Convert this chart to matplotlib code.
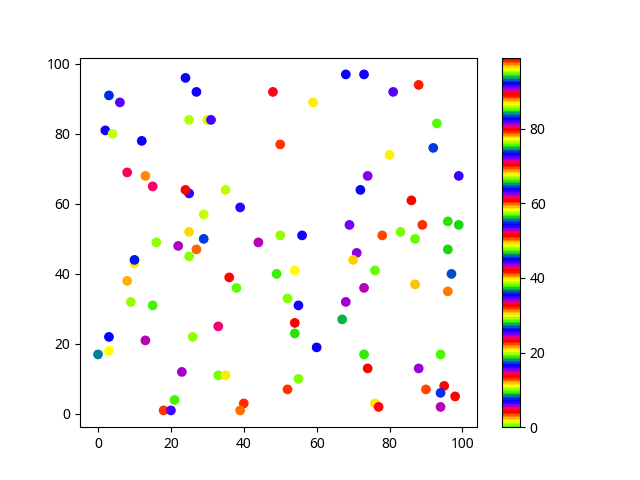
import matplotlib
matplotlib.use('Agg')
import matplotlib.pyplot as plt

plt.rcParams['font.family'] = ['Noto Sans', 'DejaVu Sans']

# point positions
x = [24, 27, 3, 6, 48, 25, 30, 31, 2, 4,
     12, 50, 8, 13, 15, 25, 24, 35, 39, 29,
     25, 29, 16, 44, 50, 68, 73, 88, 81, 59,
     93, 92, 80, 74, 99, 72, 86, 69, 89, 96,
     99, 56, 78, 83, 87, 22, 27, 25, 10, 10,
     8, 36, 38, 49, 9, 15, 33, 3, 13, 26,
     0, 3, 23, 33, 35, 21, 18, 20, 40, 39,
     96, 71, 70, 54, 76, 97, 87, 96, 73, 68,
     52, 55, 67, 54, 54, 60, 73, 94, 74, 88,
     55, 52, 90, 95, 94, 98, 76, 77, 94]
y = [96, 92, 91, 89, 92, 84, 84, 84, 81, 80,
     78, 77, 69, 68, 65, 63, 64, 64, 59, 57,
     52, 50, 49, 49, 51, 97, 97, 94, 92, 89,
     83, 76, 74, 68, 68, 64, 61, 54, 54, 55,
     54, 51, 51, 52, 50, 48, 47, 45, 43, 44,
     38, 39, 36, 40, 32, 31, 25, 22, 21, 22,
     17, 18, 12, 11, 11, 4, 1, 1, 3, 1,
     47, 46, 44, 41, 41, 40, 37, 35, 36, 32,
     33, 31, 27, 26, 23, 19, 17, 17, 13, 13,
     10, 7, 7, 8, 6, 5, 3, 2, 2]
# colour values (estimated from the prism colours)
c = [7.1, 16.6, 26.5, 34.6, 42.4, 48.3, 57.8, 72.5, 82.7, 86.2,
     7.1, 12.8, 23.7, 31.0, 42.6, 63.2, 51.4, 67.0, 82.0, 86.0,
     2.0, 17.1, 19.7, 33.9, 38.6, 54.5, 63.5, 69.9, 81.7, 86.9,
     0.2, 17.3, 20.6, 34.3, 44.3, 54.5, 60.9, 72.2, 79.1, 94.0,
     9.2, 16.6, 22.3, 28.7, 38.1, 52.8, 59.7, 66.6, 86.9, 82.9,
     2.6, 13.5, 19.2, 37.7, 38.4, 56.6, 61.6, 73.4, 81.2, 85.5,
     8.5, 11.1, 24.4, 28.9, 39.6, 56.6, 60.2, 72.5, 79.1, 87.9,
     9.2, 15.4, 21.1, 30.1, 38.1, 55.0, 59.0, 68.9, 81.2, 90.7,
     0.7, 16.6, 27.7, 32.5, 47.1, 54.5, 66.1, 75.6, 79.8, 90.7,
     0.7, 12.8, 22.3, 32.5, 45.5, 51.4, 58.5, 70.4, 81.2]

plt.figure(figsize=(6.4, 4.8), dpi=100)
plt.scatter(x, y, c=c, cmap='prism_r', vmin=0, vmax=99)
plt.colorbar()
plt.savefig('out.png')
